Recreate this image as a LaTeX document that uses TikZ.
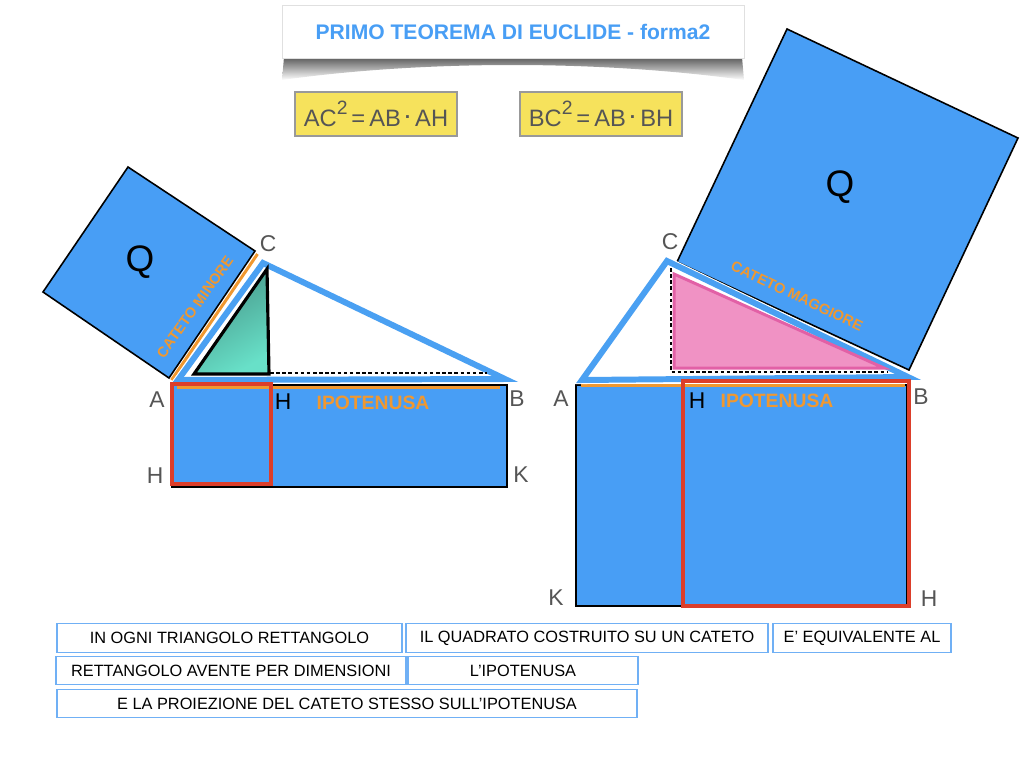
\documentclass[tikz,border=0pt]{standalone}
\usepackage{fontspec}
\setmainfont{Liberation Sans}
\usepackage{tikz}

\definecolor{sqblue}{RGB}{72,158,245}
\definecolor{lineblue}{RGB}{74,160,242}
\definecolor{catorange}{RGB}{240,152,48}
\definecolor{rectred}{RGB}{220,62,42}
\definecolor{formyellow}{RGB}{246,226,92}
\definecolor{labgray}{RGB}{85,85,85}
\definecolor{pinkfill}{RGB}{240,146,196}
\definecolor{pinkline}{RGB}{226,96,166}
\definecolor{tealdark}{RGB}{70,150,136}
\definecolor{teallight}{RGB}{104,224,200}
\definecolor{boxblue}{RGB}{112,176,245}

\newcommand{\esp}{\raisebox{0.5em}{\fontsize{11}{13}\selectfont 2}}
\newcommand{\pnt}{\raisebox{0.12em}{\fontsize{11}{13}\selectfont\bfseries ·}}

\tikzset{
  quadrato/.style={fill=sqblue, draw=black, line width=0.9pt, line join=miter},
  lato/.style={draw=catorange, line width=1.7pt},
  alone/.style={draw=white, line width=4.6pt, line join=miter},
  triang/.style={draw=lineblue, line width=3.4pt, line join=miter},
  tratteggio/.style={draw=black, line width=0.8pt, dash pattern=on 2pt off 1.5pt},
  rosso/.style={draw=rectred, line width=2.3pt},
  lettera/.style={text=labgray, font=\fontsize{13}{15}\selectfont, inner sep=0pt},
  lettnera/.style={text=black, font=\fontsize{13}{15}\selectfont, inner sep=0pt},
  bigq/.style={text=black, font=\fontsize{21}{24}\selectfont, inner sep=0pt},
  ipot/.style={text=catorange, font=\bfseries\fontsize{11}{13}\selectfont, inner sep=0pt},
  cateto/.style={text=catorange, font=\bfseries\fontsize{8.3}{10}\selectfont, inner sep=0pt},
  formula/.style={fill=formyellow, draw=black!40, line width=1pt, minimum width=3.24cm,
    minimum height=0.88cm, text=labgray, font=\fontsize{13.5}{16}\selectfont},
  txtbox/.style={fill=white, draw=boxblue, line width=0.8pt, inner sep=0pt,
    font=\fontsize{9.3}{11}\selectfont},
}

\begin{document}
\begin{tikzpicture}[x=0.02cm, y=-0.02cm]
\useasboundingbox (0,0) rectangle (1024,768);

% titolo
\shade[top color=black!65, bottom color=white] (284,57)--(742,57)--(744,80)
  .. controls (600,60) and (424,60) .. (282,80)--cycle;
\node[fill=white, draw=black!12, minimum width=9.24cm, minimum height=1.06cm,
  text=sqblue, font=\bfseries\fontsize{12}{14}\selectfont] (titolo) at (513,31.5)
  {PRIMO TEOREMA DI EUCLIDE - forma2};

% formule
\node[formula] (form1) at (376,114) {AC\esp\,=\,AB\,\pnt\,AH};
\node[formula] (form2) at (601,114) {BC\esp\,=\,AB\,\pnt\,BH};

% figura sinistra: cateto minore
\coordinate (A1) at (178,380);
\coordinate (C1) at (263,263);
\coordinate (B1) at (505,379);
\draw[quadrato] (128,167)--(255,251)--(169,378)--(43,292)--cycle;
\draw[quadrato] (172,385) rectangle (507,487);
\draw[lato] (171.5,380)--(257.5,254);
\draw[lato] (177,387)--(500,387);
\draw[alone] (A1)--(C1)--(B1)--cycle;
\draw[triang] (A1)--(C1)--(B1)--cycle;
\shadedraw[top color=tealdark, bottom color=teallight, shading angle=30,
  draw=black, line width=1.8pt, line join=miter] (194,374)--(267,269)--(269,374)--cycle;
\draw[tratteggio] (270,373)--(487,373);
\draw[rosso] (172,384) rectangle (271,484);
\node[bigq] (Q1) at (140,262) {Q};
\node[cateto, rotate=54.7] (catmin) at (195,307) {CATETO MINORE};
\node[lettera] (lC1) at (268,244) {C};
\node[lettera] (lA1) at (157,400) {A};
\node[lettnera] (lH1) at (283,402) {H};
\node[ipot] (ip1) at (373,403) {IPOTENUSA};
\node[lettera] (lB1) at (517,399) {B};
\node[lettera] (lH1b) at (155,476) {H};
\node[lettera] (lK1) at (521,475) {K};

% figura destra: cateto maggiore
\coordinate (A2) at (582,380);
\coordinate (C2) at (667,261);
\coordinate (B2) at (908,377);
\draw[quadrato] (787,29)--(1018,138)--(909,370)--(677,262)--cycle;
\draw[quadrato] (576,385) rectangle (907,606);
\draw[lato] (581,385.5)--(905,385.5);
\draw[alone] (A2)--(C2)--(B2)--cycle;
\draw[triang] (A2)--(C2)--(B2)--cycle;
\draw[tratteggio] (671,268)--(671,372)--(887,372);
\draw[fill=pinkfill, draw=pinkline, line width=1.7pt, line join=miter]
  (674,274)--(674,368)--(884,368)--cycle;
\draw[rosso] (683,381) rectangle (909,606);
\node[bigq] (Q2) at (840,187) {Q};
\node[cateto, rotate=-25.3] (catmag) at (797,296) {CATETO MAGGIORE};
\node[lettera] (lC2) at (670,242) {C};
\node[lettera] (lA2) at (561,399) {A};
\node[lettnera] (lH2) at (697,401) {H};
\node[ipot] (ip2) at (777,401) {IPOTENUSA};
\node[lettera] (lB2) at (921,397) {B};
\node[lettera] (lK2) at (556,598) {K};
\node[lettera] (lH2b) at (929,599) {H};

% enunciato
\node[txtbox, minimum width=6.9cm, minimum height=0.57cm] (t1) at (229.5,638)
  {IN OGNI TRIANGOLO RETTANGOLO};
\node[txtbox, minimum width=7.24cm, minimum height=0.57cm] (t2) at (587,638)
  {IL QUADRATO COSTRUITO SU UN CATETO};
\node[txtbox, minimum width=3.56cm, minimum height=0.57cm] (t3) at (862,638)
  {E’ EQUIVALENTE AL};
\node[txtbox, minimum width=7cm, minimum height=0.57cm] (t4) at (231,670.5)
  {RETTANGOLO AVENTE PER DIMENSIONI};
\node[txtbox, minimum width=4.6cm, minimum height=0.57cm] (t5) at (523,670.5)
  {L’IPOTENUSA};
\node[txtbox, minimum width=11.6cm, minimum height=0.57cm] (t6) at (347,703.5)
  {E LA PROIEZIONE DEL CATETO STESSO SULL’IPOTENUSA};
\end{tikzpicture}
\end{document}
